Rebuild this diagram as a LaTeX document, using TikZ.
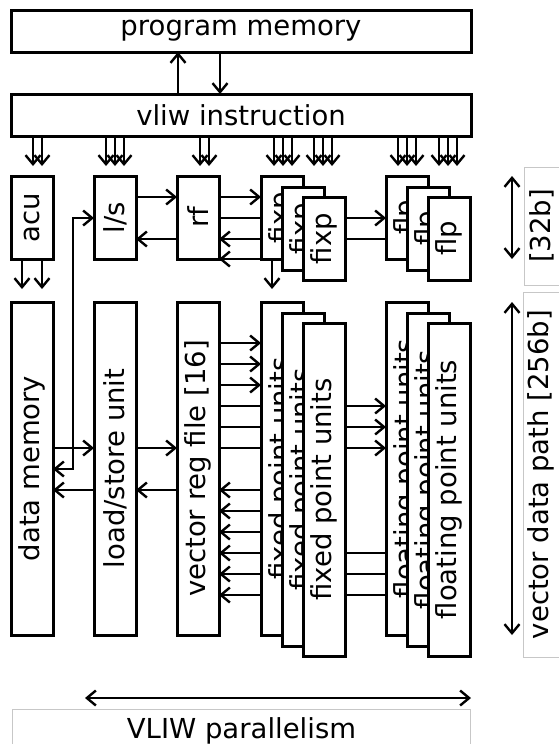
\documentclass[tikz,border=0pt]{standalone}
\usepackage{fontspec}
\setmainfont{DejaVu Sans}
\usetikzlibrary{arrows.meta,positioning,calc,backgrounds}

\begin{document}
\begin{tikzpicture}[x=1pt, y=-1pt, >={Straight Barb[length=9pt,width=15pt]},
    font=\fontsize{27.5}{32}\selectfont]
    \tikzstyle{unit} = [draw, fill=white, line width=3pt, minimum width=42pt, inner sep=0pt, outer sep=0pt]
    \tikzstyle{small} = [unit, minimum height=83pt]
    \tikzstyle{big} = [unit, minimum height=333pt]
    \tikzstyle{wide} = [draw, line width=3pt, minimum width=460pt, minimum height=42pt, inner sep=0pt, outer sep=0pt]
    \tikzstyle{vtext} = [rotate=90]
    \tikzstyle{tag} = [draw=black!22, line width=1pt, inner sep=0pt]
    \tikzstyle{link} = [line width=2.4pt]

    \useasboundingbox (0,0) rectangle (558,744);

    % Nodes
    \node [wide, anchor=north west] (pm) at (11,10) {program memory};
    \node [wide, anchor=north west] (vliw) at (11,94) {vliw instruction};

    \node [small, anchor=north west, label={[vtext]center:acu}] (acu) at (11,176) {};
    \node [small, right=41pt of acu, label={[vtext]center:l/s}] (ls) {};
    \node [small, right=41pt of ls, label={[vtext]center:rf}] (rf) {};
    \node [small, right=42pt of rf, label={[vtext]center:fixp}] (fixpA) {};
    \node [small, anchor=north west, label={[vtext]center:fixp}] (fixpB) at ($(fixpA.north west)+(21,11)$) {};
    \node [small, anchor=north west, label={[vtext]center:fixp}] (fixpC) at ($(fixpB.north west)+(21,10)$) {};
    \node [small, anchor=north west, label={[vtext]center:flp}] (flpA) at ($(fixpA.north west)+(125,0)$) {};
    \node [small, anchor=north west, label={[vtext]center:flp}] (flpB) at ($(flpA.north west)+(21,11)$) {};
    \node [small, anchor=north west, label={[vtext]center:flp}] (flpC) at ($(flpB.north west)+(21,10)$) {};

    \node [big, below=43pt of acu, label={[vtext]center:data memory}] (dmem) {};
    \node [big, below=43pt of ls, label={[vtext]center:load/store unit}] (lsu) {};
    \node [big, below=43pt of rf, label={[vtext]center:{vector reg file [16]}}] (vrf) {};
    \node [big, below=43pt of fixpA, label={[vtext]center:fixed point units}] (fixA) {};
    \node [big, anchor=north west, label={[vtext]center:fixed point units}] (fixB) at ($(fixA.north west)+(21,11)$) {};
    \node [big, anchor=north west, label={[vtext]center:fixed point units}] (fixC) at ($(fixB.north west)+(21,10)$) {};
    \node [big, below=43pt of flpA, label={[vtext]center:floating point units}] (flA) {};
    \node [big, anchor=north west, label={[vtext]center:floating point units}] (flB) at ($(flA.north west)+(21,11)$) {};
    \node [big, anchor=north west, label={[vtext]center:floating point units}] (flC) at ($(flB.north west)+(21,10)$) {};

    \node [tag, vtext, minimum width=118pt, minimum height=36pt] (w32) at (542,226) {[32b]};
    \node [tag, vtext, minimum width=365pt, minimum height=36pt] (wvec) at (541,474.5) {vector data path [256b]};
    \node [tag, anchor=north west, minimum width=458pt, minimum height=43pt] (par) at (12,709) {VLIW parallelism};

    % Paths
    \draw [->, link] (vliw.north -| 178,0) -- (pm.south -| 178,0);
    \draw [->, link] (pm.south -| 220,0) -- (vliw.north -| 220,0);
    \foreach \x in {33,42, 106,115,124, 200,209, 274,283,292, 314,323,332, 398,407,416, 439,448,457}
        \draw [->, link] (vliw.south -| \x,0) -- ++(0,30);
    \foreach \x in {22,42}
        \draw [->, link] (acu.south -| \x,0) -- ++(0,30);
    \draw [->, link] (fixpA.south -| 272,0) -- ++(0,30);

    \draw [->, link] (ls.east |- 0,197) -- (rf.west |- 0,197);
    \draw [<-, link] (ls.east |- 0,239) -- (rf.west |- 0,239);
    \draw [<->, link] (dmem.east |- 0,469) -| (73,218) -- (ls.west |- 0,218);
    \draw [->, link] (rf.east |- 0,197) -- (fixpA.west |- 0,197);
    \draw [<-, link] (rf.east |- 0,259) -- (fixpA.west |- 0,259);

    \draw [->, link] (dmem.east |- 0,448) -- (lsu.west |- 0,448);
    \draw [<-, link] (dmem.east |- 0,490) -- (lsu.west |- 0,490);
    \draw [->, link] (lsu.east |- 0,448) -- (vrf.west |- 0,448);
    \draw [<-, link] (lsu.east |- 0,490) -- (vrf.west |- 0,490);
    \foreach \y in {343,364,385}
        \draw [->, link] (vrf.east |- 0,\y) -- (fixA.west |- 0,\y);
    \foreach \y in {490,511,532}
        \draw [<-, link] (vrf.east |- 0,\y) -- (fixA.west |- 0,\y);

    % lines running behind the fixed point units
    \begin{scope}[on background layer]
        \draw [->, link] (rf.east |- 0,218) -- (flpA.west |- 0,218);
        \draw [<-, link] (rf.east |- 0,239) -- (flpA.west |- 0,239);
        \foreach \y in {406,427,448}
            \draw [->, link] (vrf.east |- 0,\y) -- (flA.west |- 0,\y);
        \foreach \y in {553,574,595}
            \draw [<-, link] (vrf.east |- 0,\y) -- (flA.west |- 0,\y);
    \end{scope}

    \draw [<->, link] (acu.north -| 512,0) -- (acu.south -| 512,0);
    \draw [<->, link] (dmem.north -| 512,0) -- (dmem.south -| 512,0);
    \draw [<->, link] ($(par.north west)+(73,-11)$) -- ($(par.north east)+(0,-11)$);
\end{tikzpicture}
\end{document}
